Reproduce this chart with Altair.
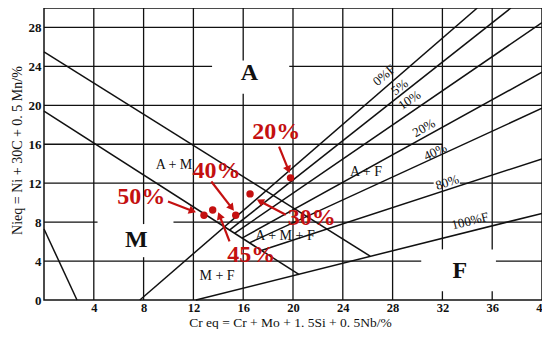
import math
import altair as alt
import pandas as pd

# ---- axis tick values ----
x_ticks = [4, 8, 12, 16, 20, 24, 28, 32, 36, 40]
y_ticks = [0, 4, 8, 12, 16, 20, 24, 28]

# ---- phase boundary / ferrite lines (Cr eq, Ni eq) ----
line_names = ["A|A+M", "A+M|M", "M|M+F", "0%F", "5%", "10%", "20%", "40%", "80%", "100%F"]
line_x1 = [0, 0, 0, 7.7, 14.9, 15.3, 15.9, 16.5, 17.45, 12.2]
line_y1 = [25.5, 19.4, 7.3, 0, 7.18, 6.85, 6.36, 5.87, 5.09, 0]
line_x2 = [26.2, 20.5, 2.65, 34.8, 37.5, 40, 40, 40, 40, 40]
line_y2 = [4.5, 2.6, 0, 30, 30, 28.5, 23.4, 19.7, 14.5, 8.9]

# ---- grid segments (with gaps around region letters) ----
grid_v_x = [4, 8, 8, 12, 16, 16, 20, 24, 28, 32, 32, 36, 36]
grid_v_y1 = [0, 0, 7.8, 0, 0, 24.6, 0, 0, 0, 0, 5.2, 0, 5.2]
grid_v_y2 = [30, 4.4, 30, 30, 21.2, 30, 30, 30, 30, 0.9, 30, 0.9, 30]
grid_h_y = [4, 4, 8, 8, 12, 12, 16, 20, 24, 24, 28]
grid_h_x1 = [0, 36.3, 0, 10.4, 0, 33.4, 0, 0, 0, 19.7, 0]
grid_h_x2 = [30.3, 40, 4.3, 40, 31.3, 40, 32, 40, 13.5, 40, 40]

# ---- region labels ----
big_text = ["A", "M", "F"]
big_x = [16.49, 7.41, 33.39]
big_y = [23.33, 6.2, 2.98]

mix_text = ["A + M", "A + M + F", "M + F", "A + F"]
mix_x = [10.44, 19.36, 13.9, 25.86]
mix_y = [13.88, 6.62, 2.42, 13.16]

fer_text = ["0%F", "5%", "10%", "20%", "40%", "80%", "100%F"]
fer_x = [27.33, 28.57, 29.36, 30.52, 31.43, 32.39, 34.22]
fer_y = [23.08, 21.85, 20.52, 17.66, 15.2, 12.08, 8.1]
fer_angle = [319, 322, 326, 331, 335, 342, 346]

# ---- red sample points ----
pt_label = ["20%", "30%", "40%", "45%", "50%"]
pt_x = [19.8, 16.55, 15.4, 13.55, 12.85]
pt_y = [12.55, 10.9, 8.7, 9.25, 8.7]

lab_x = [18.65, 21.51, 13.86, 16.65, 7.81]
lab_y = [17.3, 8.46, 13.26, 4.67, 10.6]

arr_tail_x = [18.88, 19.42, 13.44, 14.9, 9.96]
arr_tail_y = [15.75, 8.76, 12.17, 6.03, 10.12]
arr_tip_x = [19.76, 17.03, 15.3, 13.97, 12.27]
arr_tip_y = [12.96, 10.37, 9.1, 9.1, 8.97]

RED = "#C41010"
INK = "#111111"
SERIF = "Liberation Serif"

W, H = 498, 292
XMAX, YMAX = 40, 30
sx, sy = W / XMAX, H / YMAX

# arrow head geometry derived from data
head_x, head_y, head_ang = [], [], []
for tx, ty, hx, hy in zip(arr_tail_x, arr_tail_y, arr_tip_x, arr_tip_y):
    dx = (hx - tx) * sx
    dy = -(hy - ty) * sy
    L = math.hypot(dx, dy)
    ux, uy = dx / L, dy / L
    back = 4.5
    head_x.append(hx - ux * back / sx)
    head_y.append(hy + uy * back / sy)
    head_ang.append(math.degrees(math.atan2(ux, -uy)) % 360)

xs = alt.Scale(domain=[0, XMAX], nice=False, zero=False)
ys = alt.Scale(domain=[0, YMAX], nice=False, zero=False)

x_axis = alt.Axis(
    values=x_ticks, title="Cr eq = Cr + Mo + 1. 5Si + 0. 5Nb/%", grid=False, ticks=False,
    domain=False, labelFont=SERIF, labelFontWeight="bold", labelFontSize=12.5, labelColor=INK,
    labelPadding=1, titleFont=SERIF, titleFontSize=13.5, titleFontWeight="normal", titleColor=INK,
    titleX=246, titleY=22, titleAlign="center", titleBaseline="middle", labelFlush=False,
)
y_axis = alt.Axis(
    values=y_ticks, title="Nieq = Ni + 30C + 0. 5 Mn/%", grid=False, ticks=False,
    domain=False, labelFont=SERIF, labelFontWeight="bold", labelFontSize=13, labelColor=INK,
    labelPadding=3, titleFont=SERIF, titleFontSize=14, titleFontWeight="normal", titleColor=INK,
    titleX=-27, titleY=142, titleAngle=270, titleAlign="center", titleBaseline="middle",
    labelFlush=False,
)

def X(f):
    return alt.X(f, type="quantitative", scale=xs, axis=x_axis)

def Y(f):
    return alt.Y(f, type="quantitative", scale=ys, axis=y_axis)

gv = pd.DataFrame({"x": grid_v_x, "y": grid_v_y1, "y2": grid_v_y2})
gh = pd.DataFrame({"y": grid_h_y, "x": grid_h_x1, "x2": grid_h_x2})
ln = pd.DataFrame({"name": line_names, "x": line_x1, "y": line_y1, "x2": line_x2, "y2": line_y2})
big = pd.DataFrame({"t": big_text, "x": big_x, "y": big_y})
mix = pd.DataFrame({"t": mix_text, "x": mix_x, "y": mix_y})
fer = pd.DataFrame({"t": fer_text, "x": fer_x, "y": fer_y, "a": fer_angle})
pts = pd.DataFrame({"t": pt_label, "x": pt_x, "y": pt_y})
labs = pd.DataFrame({"t": pt_label, "x": lab_x, "y": lab_y})
shafts = pd.DataFrame({"x": arr_tail_x, "y": arr_tail_y, "x2": head_x, "y2": head_y})
heads = pd.DataFrame({"x": head_x, "y": head_y, "a": head_ang})

grid_v = alt.Chart(gv).mark_rule(color=INK, strokeWidth=1.3).encode(
    x=X("x"), y=Y("y"), y2="y2")
grid_h = alt.Chart(gh).mark_rule(color=INK, strokeWidth=1.3).encode(
    x=X("x"), x2="x2", y=Y("y"))
lines = alt.Chart(ln).mark_rule(color=INK, strokeWidth=1.5).encode(
    x=X("x"), x2="x2", y=Y("y"), y2="y2")

big_t = alt.Chart(big).mark_text(font=SERIF, fontSize=24, fontWeight="bold", color=INK).encode(
    x=X("x"), y=Y("y"), text="t:N")
mix_t = alt.Chart(mix).mark_text(font=SERIF, fontSize=14, color=INK).encode(
    x=X("x"), y=Y("y"), text="t:N")
fer_t = alt.Chart(fer).mark_text(font=SERIF, fontSize=13, color=INK).encode(
    x=X("x"), y=Y("y"), text="t:N", angle=alt.Angle("a:Q", scale=None))

shaft_l = alt.Chart(shafts).mark_rule(color=RED, strokeWidth=2.2).encode(
    x=X("x"), x2="x2", y=Y("y"), y2="y2")
head_l = alt.Chart(heads).mark_point(shape="triangle-up", filled=True, size=70, color=RED, opacity=1).encode(
    x=X("x"), y=Y("y"), angle=alt.Angle("a:Q", scale=None))
dots = alt.Chart(pts).mark_circle(size=55, color=RED, opacity=1).encode(x=X("x"), y=Y("y"))
red_t = alt.Chart(labs).mark_text(font=SERIF, fontSize=24, fontWeight="bold", color=RED).encode(
    x=X("x"), y=Y("y"), text="t:N")

chart = alt.layer(
    grid_v, grid_h, lines, big_t, mix_t, fer_t, shaft_l, head_l, dots, red_t
).properties(
    width=W, height=H,
    autosize=alt.AutoSizeParams(type="none"),
    padding={"left": 36, "top": 0, "right": 0, "bottom": 29},
    background="white",
).configure_view(stroke=INK, strokeWidth=1.5)

chart.save("out.html", embed_options={"renderer": "svg", "actions": False})
